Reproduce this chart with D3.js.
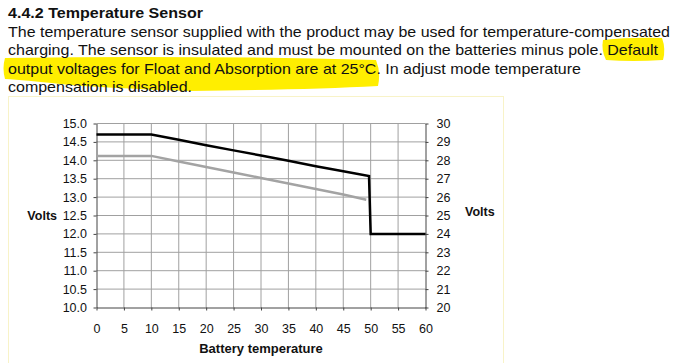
<!DOCTYPE html>
<html>
<head>
<meta charset="utf-8">
<script src="https://cdn.jsdelivr.net/npm/d3@7"></script>
<style>
  body { margin: 0; background: #fff; }
  text { font-family: "Liberation Sans", Arial, sans-serif; fill: #111; }
</style>
</head>
<body>
<div id="chart"></div>
<script>
// page text
const heading = "4.4.2 Temperature Sensor";
const paragraph = [
  "The temperature sensor supplied with the product may be used for temperature-compensated",
  "charging. The sensor is insulated and must be mounted on the batteries minus pole. Default",
  "output voltages for Float and Absorption are at 25°C. In adjust mode temperature",
  "compensation is disabled."
];

// chart values
const tempTicks = [0, 5, 10, 15, 20, 25, 30, 35, 40, 45, 50, 55, 60];
const volt12Ticks = [10.0, 10.5, 11.0, 11.5, 12.0, 12.5, 13.0, 13.5, 14.0, 14.5, 15.0];
const volt24Ticks = [20, 21, 22, 23, 24, 25, 26, 27, 28, 29, 30];

const absorptionTemps = [0, 5, 10, 15, 20, 25, 30, 35, 40, 45, 49.7, 50, 55, 60];
const absorptionVolts = [14.7, 14.7, 14.7, 14.56, 14.41, 14.27, 14.13, 13.99, 13.84, 13.7, 13.57, 12.0, 12.0, 12.0];
const floatTemps = [0, 5, 10, 15, 20, 25, 30, 35, 40, 45, 49.2];
const floatVolts = [14.12, 14.12, 14.12, 13.97, 13.82, 13.67, 13.52, 13.37, 13.22, 13.07, 12.93];

const W = 683, H = 363;
const plot = {left: 96.5, right: 425.5, top: 123.5, bottom: 307.5};

const svg = d3.select("#chart").append("svg")
    .attr("width", W)
    .attr("height", H);

svg.append("rect").attr("width", W).attr("height", H).attr("fill", "#fff");

// highlighter strokes behind the text
const marker = svg.append("g").attr("fill", "#ffee00");
marker.append("path")
    .attr("d", "M603,40 Q630,37 662,38 Q666,49 663,60 Q632,62 606,60 Q601,50 603,40Z");
marker.append("path")
    .attr("d", "M5,58 Q190,55 376,60 Q381,72 378,86 Q300,90 190,91 Q100,88 60,84 Q25,80 5,79 Q2,68 5,58Z");

// frame of the chart area
svg.append("rect")
    .attr("x", 8.5).attr("y", 96.5)
    .attr("width", 495).attr("height", 280)
    .attr("fill", "none")
    .attr("stroke", "#f8f3c8");

svg.append("text")
    .attr("x", 8).attr("y", 18)
    .attr("font-size", 15.5)
    .attr("font-weight", "bold")
    .attr("textLength", 195)
    .attr("lengthAdjust", "spacingAndGlyphs")
    .text(heading);

const lineWidths = [662, 650, 573, 184];
svg.append("g").selectAll("text")
  .data(paragraph)
  .join("text")
    .attr("x", 8)
    .attr("y", (d, i) => 36.5 + i * 18.5)
    .attr("font-size", 15)
    .attr("textLength", (d, i) => lineWidths[i])
    .attr("lengthAdjust", "spacingAndGlyphs")
    .text(d => d);

// scales
const x = d3.scaleLinear().domain([0, 60]).range([plot.left, plot.right]);
const y = d3.scaleLinear().domain([10, 15]).range([plot.bottom, plot.top]);
const y2 = d3.scaleLinear().domain([20, 30]).range([plot.bottom, plot.top]);

// grid
const grid = svg.append("g").attr("stroke", "#a0a0a0").attr("stroke-width", 1);
grid.selectAll(".vg")
  .data(tempTicks.slice(1, -1))
  .join("line")
    .attr("x1", d => x(d)).attr("x2", d => x(d))
    .attr("y1", plot.top).attr("y2", plot.bottom);
grid.selectAll(".hg")
  .data(volt12Ticks.slice(1))
  .join("line")
    .attr("x1", plot.left).attr("x2", plot.right)
    .attr("y1", d => y(d)).attr("y2", d => y(d));

// axes
const styleAxis = g => {
  g.select(".domain").attr("stroke", "#444");
  g.selectAll(".tick line").attr("stroke", "#444");
  g.selectAll(".tick text").attr("font-size", 12.5).attr("fill", "#111")
    .attr("font-family", "'Liberation Sans', Arial, sans-serif");
};

svg.append("g")
    .attr("transform", `translate(${plot.left},0)`)
    .call(d3.axisLeft(y).tickValues(volt12Ticks).tickFormat(d3.format(".1f"))
      .tickSize(3).tickSizeOuter(0).tickPadding(6.5))
    .call(styleAxis);

svg.append("g")
    .attr("transform", `translate(${plot.right},0)`)
    .call(d3.axisRight(y2).tickValues(volt24Ticks).tickFormat(d3.format("d"))
      .tickSize(3).tickSizeOuter(0).tickPadding(8))
    .call(styleAxis);

svg.append("g")
    .attr("transform", `translate(0,${plot.bottom})`)
    .call(d3.axisBottom(x).tickValues(tempTicks).tickFormat(d3.format("d"))
      .tickSize(3).tickSizeOuter(0).tickPadding(14))
    .call(styleAxis);

// axis titles
svg.append("text")
    .attr("x", plot.left - 39.5).attr("y", y(12.5) + 4)
    .attr("text-anchor", "end")
    .attr("font-size", 12.5).attr("font-weight", "bold")
    .text("Volts");
svg.append("text")
    .attr("x", 465).attr("y", y(12.5) + 0.5)
    .attr("font-size", 12.5).attr("font-weight", "bold")
    .text("Volts");
svg.append("text")
    .attr("x", (plot.left + plot.right) / 2).attr("y", 353)
    .attr("text-anchor", "middle")
    .attr("font-size", 13).attr("font-weight", "bold")
    .text("Battery temperature");

// series
const line = d3.line().x(d => x(d[0])).y(d => y(d[1]));

svg.append("path")
    .datum(d3.zip(floatTemps, floatVolts))
    .attr("fill", "none")
    .attr("stroke", "#a3a3a3")
    .attr("stroke-width", 2.5)
    .attr("d", line);

svg.append("path")
    .datum(d3.zip(absorptionTemps, absorptionVolts))
    .attr("fill", "none")
    .attr("stroke", "#000")
    .attr("stroke-width", 2.5)
    .attr("d", line);
</script>
</body>
</html>
